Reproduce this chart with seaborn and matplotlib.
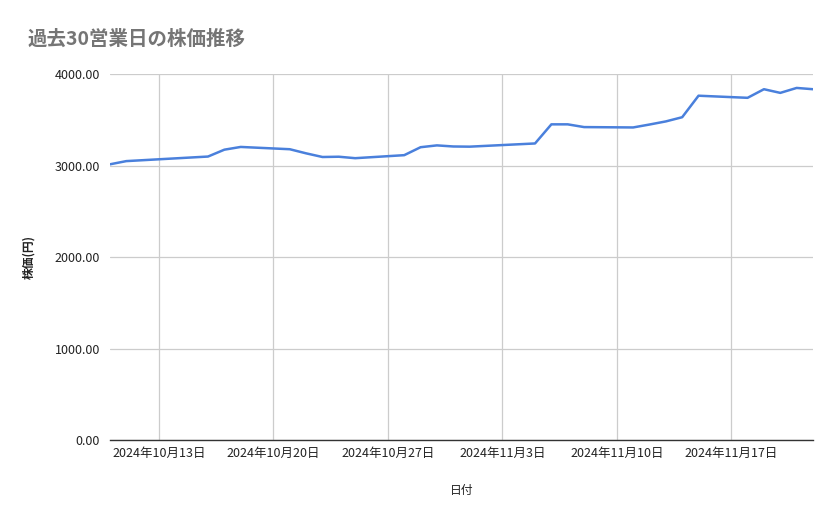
import seaborn as sns
import matplotlib.pyplot as plt
import matplotlib.dates as mdates
from matplotlib.ticker import FuncFormatter, MultipleLocator
import pandas as pd

# 過去30営業日（祝日 10/14, 11/4 を除く）
dates = [
    "2024-10-10", "2024-10-11", "2024-10-15", "2024-10-16", "2024-10-17",
    "2024-10-18", "2024-10-21", "2024-10-22", "2024-10-23", "2024-10-24",
    "2024-10-25", "2024-10-28", "2024-10-29", "2024-10-30", "2024-10-31",
    "2024-11-01", "2024-11-05", "2024-11-06", "2024-11-07", "2024-11-08",
    "2024-11-11", "2024-11-12", "2024-11-13", "2024-11-14", "2024-11-15",
    "2024-11-18", "2024-11-19", "2024-11-20", "2024-11-21", "2024-11-22",
]
prices = [
    3015, 3050, 3090, 3100, 3175,
    3205, 3180, 3135, 3095, 3098,
    3082, 3115, 3202, 3222, 3210,
    3208, 3243, 3452, 3452, 3422,
    3418, 3450, 3484, 3530, 3765,
    3742, 3836, 3796, 3850, 3836,
]
tick_dates = ["2024-10-13", "2024-10-20", "2024-10-27", "2024-11-03", "2024-11-10", "2024-11-17"]

df = pd.DataFrame({"日付": pd.to_datetime(dates), "株価": prices})

sns.set_style("white")
plt.rcParams['font.family'] = ['Noto Sans CJK JP', 'DejaVu Sans']

fig = plt.figure(figsize=(8.39, 5.19), dpi=100)
ax = fig.add_axes([0.131, 0.152, 0.838, 0.705])

sns.lineplot(data=df, x="日付", y="株価", ax=ax, color="#4a80dc", linewidth=1.8)

ax.set_xlim(pd.Timestamp("2024-10-10"), pd.Timestamp("2024-11-22"))
ax.set_ylim(0, 4000)
ax.yaxis.set_major_locator(MultipleLocator(1000))
ax.yaxis.set_major_formatter(FuncFormatter(lambda v, p: f"{v:.2f}"))
ax.set_xticks(pd.to_datetime(tick_dates))
ax.xaxis.set_major_formatter(FuncFormatter(
    lambda v, p: (lambda d: f"{d.year}年{d.month}月{d.day}日")(mdates.num2date(v))))

ax.grid(True, color="#cccccc", linewidth=0.9)
ax.set_axisbelow(True)
for s in ["top", "right", "left"]:
    ax.spines[s].set_visible(False)
ax.spines["bottom"].set_color("#333333")
ax.spines["bottom"].set_linewidth(1.0)
ax.tick_params(axis="both", length=0, labelsize=9, colors="#222222")
ax.tick_params(axis="y", pad=7)
ax.tick_params(axis="x", pad=5)

ax.set_xlabel("日付", fontsize=8.5, color="#222222", labelpad=17)
ax.set_ylabel("株価(円)", fontsize=8.5, color="#222222", labelpad=14, fontweight="bold")
fig.text(0.033, 0.924, "過去30営業日の株価推移", fontsize=14, color="#757575",
         ha="left", va="center", fontweight="bold")

fig.savefig("out.png", dpi=100)
